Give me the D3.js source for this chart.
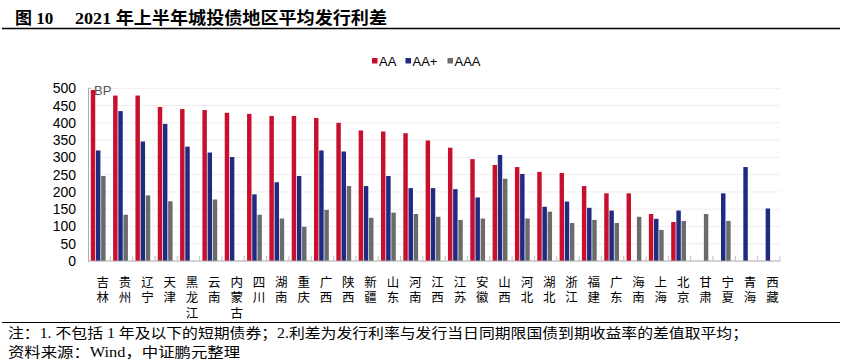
<!DOCTYPE html>
<html>
<head>
<meta charset="utf-8">
<script src="https://cdn.jsdelivr.net/npm/d3@7"></script>
<style>
  body { margin: 0; background: #fff; }
  svg { display: block; }
</style>
</head>
<body>
<div id="chart"></div>
<script>
// 地区 + 三个评级的平均发行利差 (BP)，null = 无数据
const regions = ['吉林','贵州','辽宁','天津','黑龙江','云南','内蒙古','四川','湖南','重庆','广西','陕西','新疆','山东','河南','江西','江苏','安徽','山西','河北','湖北','浙江','福建','广东','海南','上海','北京','甘肃','宁夏','青海','西藏'];
const aa     = [495,479,479,446,440,437,429,426,420,420,414,400,378,375,370,349,328,295,278,272,258,255,217,196,196,136,113,null,null,null,null];
const aaPlus = [320,434,346,397,331,314,301,193,228,246,320,317,217,246,211,211,208,184,307,252,157,172,154,146,null,122,146,null,196,272,152];
const aaa    = [246,134,190,173,null,178,null,134,123,99,148,217,125,140,136,128,119,123,238,123,143,110,119,110,128,90,116,136,116,null,null];
const series = ['AA','AA+','AAA'];
const yTicks = [0,50,100,150,200,250,300,350,400,450,500];

const colors = { 'AA': '#c8102e', 'AA+': '#1f2a80', 'AAA': '#6b6b6b' };

const W = 842, H = 364;
const plot = { left: 88, right: 780, top: 88.3, bottom: 261 };

const svg = d3.select('#chart').append('svg')
    .attr('width', W)
    .attr('height', H)

// title
const title = svg.append('text')
    .attr('y', 24)
    .style('font-family', '"Liberation Serif","Noto Sans CJK SC",serif')
    .style('font-weight', 'bold')
    .style('font-size', '17px')
    .attr('fill', '#000')
title.append('tspan').attr('x', 15).text('图 10')
title.append('tspan').attr('x', 75).attr('textLength', 312).attr('lengthAdjust', 'spacingAndGlyphs')
    .text('2021 年上半年城投债地区平均发行利差')

svg.append('line').attr('x1', 2).attr('x2', 840).attr('y1', 28.5).attr('y2', 28.5)
    .attr('stroke', '#000').attr('stroke-width', 1.3)

// scales
const x0 = d3.scaleBand().domain(regions).range([plot.left, plot.right]).padding(0)
const x1 = d3.scaleBand().domain(series).range([2.8, 17.6]).paddingInner(0.14)
const y = d3.scaleLinear().domain([0, 500]).range([plot.bottom, plot.top])

// grid
svg.append('g').selectAll('line')
    .data(yTicks.filter(d => d > 0))
    .join('line')
    .attr('x1', plot.left).attr('x2', plot.right)
    .attr('y1', d => y(d)).attr('y2', d => y(d))
    .attr('stroke', '#eeeeee').attr('stroke-width', 1)

// y axis
const yAxis = svg.append('g')
    .attr('transform', `translate(${plot.left},0)`)
    .call(d3.axisLeft(y).tickValues(yTicks).tickSize(0).tickPadding(12))
yAxis.select('.domain').attr('stroke', '#b0b0b0')
yAxis.selectAll('text')
    .style('font-family', '"Liberation Sans",Arial,sans-serif')
    .style('font-size', '14px')
    .attr('fill', '#000')
svg.append('line').attr('x1', plot.left).attr('x2', plot.left + 3)
    .attr('y1', y(500)).attr('y2', y(500)).attr('stroke', '#b0b0b0')

svg.append('text')
    .attr('x', 94).attr('y', 95)
    .style('font-family', '"Liberation Sans",Arial,sans-serif')
    .style('font-size', '13px')
    .attr('fill', '#555')
    .text('BP')

// bars
const rows = regions.map((r, i) => ({
    region: r,
    values: [
        { key: 'AA', v: aa[i] },
        { key: 'AA+', v: aaPlus[i] },
        { key: 'AAA', v: aaa[i] }
    ]
}))

const groups = svg.append('g').selectAll('g')
    .data(rows)
    .join('g')
    .attr('transform', d => `translate(${x0(d.region)},0)`)

groups.selectAll('rect')
    .data(d => d.values.filter(e => e.v != null))
    .join('rect')
    .attr('x', d => x1(d.key))
    .attr('width', x1.bandwidth())
    .attr('y', d => y(d.v))
    .attr('height', d => y(0) - y(d.v))
    .attr('fill', d => colors[d.key])

// x axis: baseline + inward ticks between categories
const xAxis = svg.append('g')
    .attr('transform', `translate(0,${plot.bottom})`)
xAxis.append('line')
    .attr('x1', plot.left).attr('x2', plot.right)
    .attr('stroke', '#a8a8a8').attr('stroke-width', 1.2)
xAxis.selectAll('.tick')
    .data(regions.map(r => x0(r)).concat([plot.right]).slice(1))
    .join('line')
    .attr('class', 'tick')
    .attr('x1', d => d).attr('x2', d => d)
    .attr('y1', 0).attr('y2', -5)
    .attr('stroke', '#c0c0c0')

// vertical category labels, one char per line
const labels = svg.append('g').selectAll('text')
    .data(regions)
    .join('text')
    .attr('x', d => x0(d) + x0.bandwidth() / 2 + 3.6)
    .attr('y', 286.5)
    .attr('text-anchor', 'middle')
    .style('font-family', '"Noto Sans CJK SC",sans-serif')
    .style('font-size', '12.5px')
    .attr('fill', '#000')
labels.selectAll('tspan')
    .data(d => d.split(''))
    .join('tspan')
    .attr('x', function() { return this.parentNode.getAttribute('x') })
    .attr('dy', (d, i) => i === 0 ? 0 : 15.5)
    .text(d => d)

// legend
const legend = svg.append('g').selectAll('g')
    .data(series)
    .join('g')
    .attr('transform', (d, i) => `translate(${[372, 405.5, 447.5][i]},0)`)
legend.append('rect')
    .attr('x', 0).attr('y', 58).attr('width', 5.5).attr('height', 5.5)
    .attr('fill', d => colors[d])
legend.append('text')
    .attr('x', 7).attr('y', 65.5)
    .style('font-family', '"Liberation Sans",Arial,sans-serif')
    .style('font-size', '13px')
    .attr('fill', '#000')
    .text(d => d)

// footer
svg.append('line').attr('x1', 2).attr('x2', 840).attr('y1', 322.5).attr('y2', 322.5)
    .attr('stroke', '#000').attr('stroke-width', 1.2)

const notes = [
    { text: '注：1. 不包括 1 年及以下的短期债券；2.利差为发行利率与发行当日同期限国债到期收益率的差值取平均；', y: 338, len: 740 },
    { text: '资料来源：Wind，中证鹏元整理', y: 357, len: 232 }
]
svg.append('g').selectAll('text')
    .data(notes)
    .join('text')
    .attr('x', 8)
    .attr('y', d => d.y)
    .attr('textLength', d => d.len)
    .attr('lengthAdjust', 'spacingAndGlyphs')
    .style('font-family', '"Liberation Serif","Noto Sans CJK SC",serif')
    .style('font-size', '14px')
    .attr('fill', '#000')
    .text(d => d.text)
</script>
</body>
</html>
